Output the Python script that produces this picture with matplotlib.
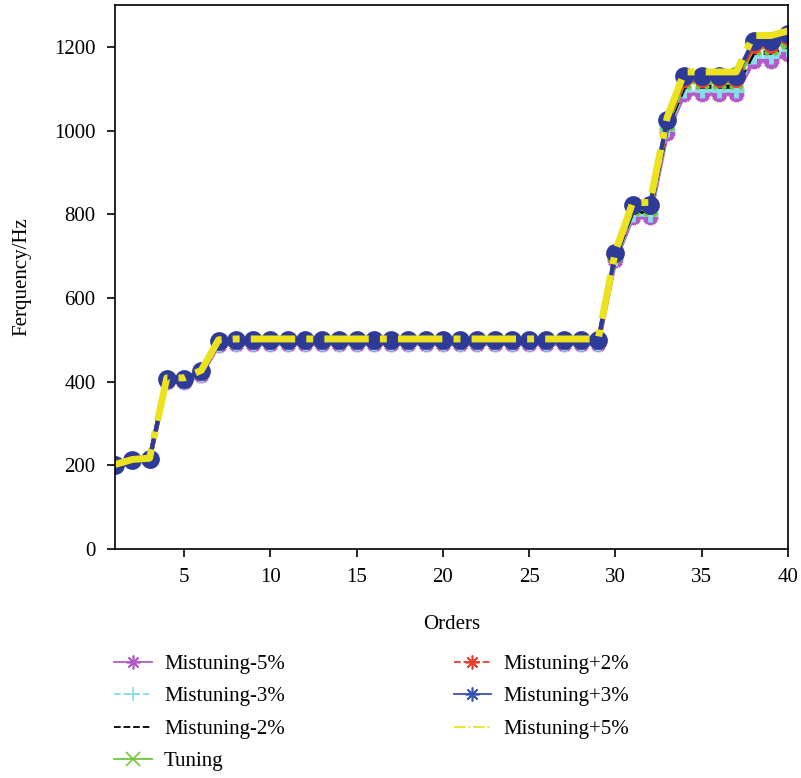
import matplotlib
matplotlib.use("Agg")
import matplotlib.pyplot as plt
from matplotlib.lines import Line2D

plt.rcParams['font.family'] = ['Liberation Serif', 'DejaVu Serif']
plt.rcParams['font.size'] = 15

# Natural frequency of each order for the tuned and mistuned cases
orders = list(range(1, 41))

m5 = [198, 210, 212, 400, 400, 416, 488,
      490, 490, 490, 490, 490, 490, 490, 490, 490, 490, 490,
      490, 490, 490, 490, 490, 490, 490, 490, 490, 490, 490,
      690, 793, 793, 995, 1088, 1088, 1088, 1088, 1167, 1167, 1183]
m3 = [199, 211, 213, 402, 402, 418, 490,
      492, 492, 492, 492, 492, 492, 492, 492, 492, 492, 492,
      492, 492, 492, 492, 492, 492, 492, 492, 492, 492, 492,
      695, 800, 800, 1003, 1098, 1098, 1098, 1098, 1179, 1179, 1195]
m2 = [199, 211, 214, 403, 403, 420, 492,
      494, 494, 494, 494, 494, 494, 494, 494, 494, 494, 494,
      494, 494, 494, 494, 494, 494, 494, 494, 494, 494, 494,
      698, 806, 806, 1008, 1105, 1105, 1105, 1105, 1186, 1186, 1202]
tuning = [200, 212, 215, 405, 405, 422, 495,
          497, 497, 497, 497, 497, 497, 497, 497, 497, 497, 497,
          497, 497, 497, 497, 497, 497, 497, 497, 497, 497, 497,
          702, 812, 812, 1015, 1115, 1115, 1115, 1115, 1198, 1198, 1212]
p2 = [201, 213, 216, 406, 406, 424, 497,
      499, 499, 499, 499, 499, 499, 499, 499, 499, 499, 499,
      499, 499, 499, 499, 499, 499, 499, 499, 499, 499, 499,
      706, 818, 818, 1021, 1120, 1120, 1120, 1120, 1203, 1203, 1220]
p3 = [201, 213, 216, 407, 407, 425, 498,
      500, 500, 500, 500, 500, 500, 500, 500, 500, 500, 500,
      500, 500, 500, 500, 500, 500, 500, 500, 500, 500, 500,
      708, 822, 822, 1026, 1130, 1130, 1130, 1130, 1215, 1215, 1231]
p5 = [202, 214, 217, 409, 409, 427, 500,
      502, 502, 502, 502, 502, 502, 502, 502, 502, 502, 502,
      502, 502, 502, 502, 502, 502, 502, 502, 502, 502, 502,
      712, 828, 828, 1032, 1140, 1140, 1140, 1140, 1227, 1227, 1238]

labels = ['Mistuning-5%', 'Mistuning-3%', 'Mistuning-2%', 'Tuning',
          'Mistuning+2%', 'Mistuning+3%', 'Mistuning+5%']
series = [m5, m3, m2, tuning, p2, p3, p5]
colors = ['#b45ac8', '#88dde8', '#000000', '#72c83a',
          '#e8402f', '#2e3a98', '#ece21e']
legend_colors = ['#b45ac8', '#88dde8', '#000000', '#72c83a',
                 '#e8402f', '#3a52b0', '#ece21e']
styles = ['-', '--', '--', '-', '--', '-', '-.']
# markers as drawn on the curves / in the legend
ast = (8, 2, 0)
plot_markers = [ast, '+', '', 'x', ast, 'o', '']
legend_markers = [ast, '+', '', 'x', ast, ast, '']
plot_ms = [11, 11, 0, 9, 10, 10, 0]
plot_lw = [3, 3, 3, 3, 3, 3, 5]

fig = plt.figure(figsize=(8.01, 7.78), dpi=100)
ax = fig.add_axes([0.1436, 0.2943, 0.8402, 0.6993])

for y, c, ls, mk, ms, lw in zip(series, colors, styles, plot_markers, plot_ms, plot_lw):
    ax.plot(orders, y, color=c, linestyle=ls, linewidth=lw, marker=mk,
            markersize=ms, markeredgewidth=3.5)

ax.set_xlim(1, 40)
ax.set_ylim(0, 1300)
ax.set_xticks([5, 10, 15, 20, 25, 30, 35, 40])
ax.set_yticks([0, 200, 400, 600, 800, 1000, 1200])
ax.tick_params(direction='out', length=6, width=1.2, top=False, right=False, pad=8)
for s in ax.spines.values():
    s.set_linewidth(1.2)
ax.set_xlabel('Orders', labelpad=20)
ax.set_ylabel('Ferquency/Hz', labelpad=16)

handles = []
for c, ls, mk in zip(legend_colors, styles, legend_markers):
    handles.append(Line2D([], [], color=c, linestyle=ls, linewidth=1.3,
                          marker=mk if mk else None, markersize=10,
                          markeredgewidth=1.2))
fig.legend(handles, labels, loc='upper left', bbox_to_anchor=(0.119, 0.183),
           ncol=2, frameon=False, handlelength=1.8, handletextpad=0.6,
           columnspacing=8.1, labelspacing=0.62, fontsize=15)

fig.savefig('out.png', dpi=100)
